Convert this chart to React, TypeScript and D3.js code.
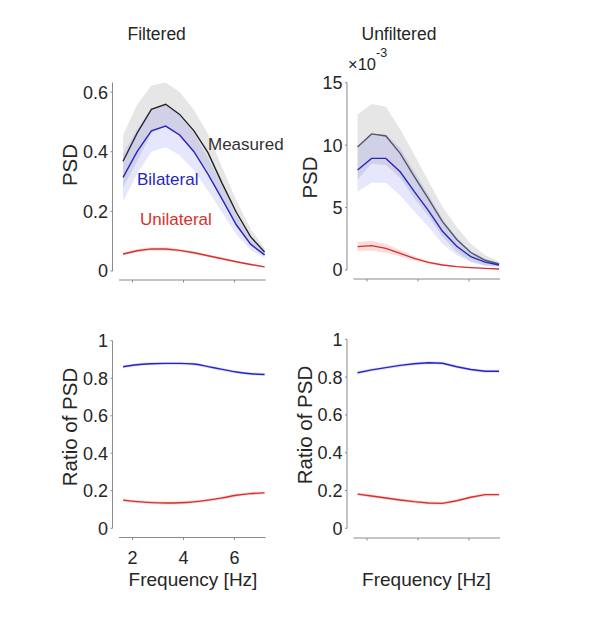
import React from 'react';
import * as d3 from 'd3';

// ---------- data ----------
const freq = [1.63, 2.18, 2.74, 3.3, 3.85, 4.41, 4.96, 5.52, 6.07, 6.63, 7.18];
const xTicks = [2, 4, 6];

const filtMeasured = [0.368, 0.462, 0.542, 0.559, 0.525, 0.47, 0.397, 0.293, 0.197, 0.115, 0.064];
const filtMeasuredErr = [0.088, 0.095, 0.08, 0.073, 0.075, 0.07, 0.063, 0.053, 0.04, 0.027, 0.013];
const filtBilateral = [0.314, 0.4, 0.47, 0.486, 0.456, 0.4, 0.325, 0.24, 0.155, 0.09, 0.054];
const filtBilateralErr = [0.08, 0.075, 0.07, 0.07, 0.068, 0.062, 0.055, 0.045, 0.032, 0.02, 0.01];
const filtUnilateral = [0.057, 0.068, 0.074, 0.074, 0.069, 0.061, 0.051, 0.041, 0.031, 0.022, 0.014];
const filtUnilateralErr = [0.005, 0.006, 0.006, 0.006, 0.005, 0.005, 0.004, 0.004, 0.003, 0.003, 0.002];

const unfMeasured = [9.85, 10.9, 10.73, 9.34, 7.5, 5.7, 3.87, 2.45, 1.4, 0.78, 0.48];
const unfMeasuredErr = [2.6, 2.4, 2.35, 1.95, 1.75, 1.4, 1.2, 1.0, 0.7, 0.42, 0.18];
const unfBilateral = [8.01, 8.94, 8.94, 7.87, 6.3, 4.75, 3.1, 1.9, 1.07, 0.63, 0.4];
const unfBilateralErr = [1.75, 1.95, 1.95, 1.9, 1.6, 1.3, 1.0, 0.7, 0.45, 0.3, 0.15];
const unfUnilateral = [1.87, 1.95, 1.73, 1.33, 0.93, 0.61, 0.4, 0.27, 0.19, 0.13, 0.08];
const unfUnilateralErr = [0.35, 0.4, 0.35, 0.25, 0.18, 0.12, 0.08, 0.05, 0.04, 0.03, 0.02];

const filtRatioBi = [0.861, 0.872, 0.877, 0.879, 0.879, 0.876, 0.862, 0.847, 0.833, 0.824, 0.82];
const filtRatioUni = [0.15, 0.142, 0.137, 0.135, 0.136, 0.141, 0.15, 0.162, 0.176, 0.185, 0.189];
const unfRatioBi = [0.823, 0.838, 0.85, 0.862, 0.871, 0.876, 0.873, 0.855, 0.84, 0.831, 0.831];
const unfRatioUni = [0.181, 0.171, 0.16, 0.15, 0.141, 0.134, 0.132, 0.146, 0.164, 0.178, 0.178];
const ratioErr = [0.008, 0.008, 0.008, 0.008, 0.008, 0.008, 0.008, 0.008, 0.008, 0.008, 0.008];

const psdTicksFilt = [0, 0.2, 0.4, 0.6];
const psdTicksUnf = [0, 5, 10, 15];
const ratioTicks = [0, 0.2, 0.4, 0.6, 0.8, 1];

const titles = ['Filtered', 'Unfiltered'];
const seriesNames = ['Measured', 'Bilateral', 'Unilateral'];

// ---------- styles ----------
const FONT = 'Arial, "Liberation Sans", Helvetica, sans-serif';
const AXIS = '#8a8a8a';
const TXT = '#262626';
const BLACK = '#222222';
const BLUE = '#2626c4';
const RED = '#d8302c';

type Series = { mean: number[]; err: number[]; line: string; band: string; bandOpacity: number };

type PanelCfg = {
  xRange: [number, number];
  yDomain: [number, number];
  yRange: [number, number];
  yAxisX: number;
  xAxisY: number;
  yTicks: number[];
  fmt: (d: number) => string;
  series: Series[];
  showXLabels: boolean;
  curve: d3.CurveFactory;
  yLabel: string;
  yLabelX: number;
  yLabelY: number;
};

function Panel({ cfg }: { cfg: PanelCfg }) {
  const x = d3.scaleLinear().domain([1.47, 7.22]).range(cfg.xRange);
  const y = d3.scaleLinear().domain(cfg.yDomain).range(cfg.yRange);
  const yTopVal = cfg.yDomain[1];
  const area = (s: Series) =>
    d3
      .area<number>()
      .x((_, i) => x(freq[i]))
      .y0((_, i) => y(s.mean[i] - s.err[i]))
      .y1((_, i) => y(s.mean[i] + s.err[i]))
      .curve(cfg.curve)(s.mean) || '';
  const line = (s: Series) =>
    d3
      .line<number>()
      .x((_, i) => x(freq[i]))
      .y((d) => y(d))
      .curve(cfg.curve)(s.mean) || '';
  return (
    <g>
      {cfg.series.map((s, k) => (
        <g key={k}>
          <path d={area(s)} fill={s.band} fillOpacity={s.bandOpacity} stroke="none" />
          <path d={line(s)} fill="none" stroke={s.line} strokeWidth={1.4} />
        </g>
      ))}
      {/* y axis */}
      <line x1={cfg.yAxisX} x2={cfg.yAxisX} y1={y(0)} y2={y(yTopVal)} stroke={AXIS} strokeWidth={1} />
      {cfg.yTicks.map((t) => (
        <g key={t}>
          <line x1={cfg.yAxisX - 2} x2={cfg.yAxisX} y1={y(t)} y2={y(t)} stroke={AXIS} strokeWidth={1} />
          <text x={cfg.yAxisX - 4.5} y={y(t)} dy="0.36em" textAnchor="end" fontSize={18} fill={TXT} fontFamily={FONT}>
            {cfg.fmt(t)}
          </text>
        </g>
      ))}
      {/* x axis */}
      <line x1={cfg.xRange[0]} x2={cfg.xRange[1]} y1={cfg.xAxisY} y2={cfg.xAxisY} stroke={AXIS} strokeWidth={1} />
      {xTicks.map((t) => (
        <g key={t}>
          <line x1={x(t)} x2={x(t)} y1={cfg.xAxisY} y2={cfg.xAxisY + 2.5} stroke={AXIS} strokeWidth={1} />
          {cfg.showXLabels && (
            <text x={x(t)} y={cfg.xAxisY + 26.5} textAnchor="middle" fontSize={18} fill={TXT} fontFamily={FONT}>
              {t}
            </text>
          )}
        </g>
      ))}
      <text
        transform={`translate(${cfg.yLabelX},${cfg.yLabelY}) rotate(-90)`}
        textAnchor="middle"
        fontSize={20.5}
        fill={TXT}
        fontFamily={FONT}
      >
        {cfg.yLabel}
      </text>
    </g>
  );
}

export default function App() {
  const psdSeries = (m: number[], me: number[], b: number[], be: number[], u: number[], ue: number[], mColor: string): Series[] => [
    { mean: m, err: me, line: mColor, band: '#dcdcdc', bandOpacity: 0.7 },
    { mean: b, err: be, line: BLUE, band: '#5a5af0', bandOpacity: 0.15 },
    { mean: u, err: ue, line: RED, band: '#f06060', bandOpacity: 0.22 },
  ];
  const ratioSeries = (bi: number[], un: number[]): Series[] => [
    { mean: bi, err: ratioErr, line: BLUE, band: '#5a5af0', bandOpacity: 0.2 },
    { mean: un, err: ratioErr, line: RED, band: '#f06060', bandOpacity: 0.25 },
  ];
  const fmtDec = (d: number) => (d === 0 ? '0' : d === 1 ? '1' : d.toFixed(1));
  const fmtInt = (d: number) => String(d);

  const panels: PanelCfg[] = [
    {
      xRange: [119, 265.6],
      yDomain: [0, 0.632],
      yRange: [271, 82.5],
      yAxisX: 112.5,
      xAxisY: 280,
      yTicks: psdTicksFilt,
      fmt: fmtDec,
      series: psdSeries(filtMeasured, filtMeasuredErr, filtBilateral, filtBilateralErr, filtUnilateral, filtUnilateralErr, BLACK),
      showXLabels: false,
      curve: d3.curveLinear,
      yLabel: 'PSD',
      yLabelX: 77,
      yLabelY: 165,
    },
    {
      xRange: [353.5, 500.1],
      yDomain: [0, 15],
      yRange: [270, 82.7],
      yAxisX: 347,
      xAxisY: 279,
      yTicks: psdTicksUnf,
      fmt: fmtInt,
      series: psdSeries(unfMeasured, unfMeasuredErr, unfBilateral, unfBilateralErr, unfUnilateral, unfUnilateralErr, '#555555'),
      showXLabels: false,
      curve: d3.curveLinear,
      yLabel: 'PSD',
      yLabelX: 317,
      yLabelY: 177.5,
    },
    {
      xRange: [119, 265.6],
      yDomain: [0, 1],
      yRange: [528.3, 340.7],
      yAxisX: 112.5,
      xAxisY: 537.5,
      yTicks: ratioTicks,
      fmt: fmtDec,
      series: ratioSeries(filtRatioBi, filtRatioUni),
      showXLabels: true,
      curve: d3.curveMonotoneX,
      yLabel: 'Ratio of PSD',
      yLabelX: 77,
      yLabelY: 427,
    },
    {
      xRange: [353.5, 500.1],
      yDomain: [0, 1],
      yRange: [528.3, 339.3],
      yAxisX: 347,
      xAxisY: 538,
      yTicks: ratioTicks,
      fmt: fmtDec,
      series: ratioSeries(unfRatioBi, unfRatioUni),
      showXLabels: false,
      curve: d3.curveLinear,
      yLabel: 'Ratio of PSD',
      yLabelX: 312,
      yLabelY: 425,
    },
  ];

  return (
    <svg
      width={596}
      height={637}
      viewBox="0 0 596 637"
      style={{ position: 'absolute', left: 0, top: 0, background: '#ffffff' }}
    >
      <rect x={0} y={0} width={596} height={637} fill="#ffffff" />
      {panels.map((p, i) => (
        <Panel key={i} cfg={p} />
      ))}
      <text x={127.5} y={40} fontSize={17.5} fill={TXT} fontFamily={FONT}>
        {titles[0]}
      </text>
      <text x={361.5} y={40} fontSize={17.5} fill={TXT} fontFamily={FONT}>
        {titles[1]}
      </text>
      <text x={348} y={70} fontSize={16.5} fill={TXT} fontFamily={FONT}>
        ×10
        <tspan fontSize={12.5} dy={-13}>
          -3
        </tspan>
      </text>
      <text x={208} y={150} fontSize={17} fill="#333333" fontFamily={FONT}>
        {seriesNames[0]}
      </text>
      <text x={137} y={185} fontSize={17} fill={BLUE} fontFamily={FONT}>
        {seriesNames[1]}
      </text>
      <text x={140} y={225} fontSize={17} fill={RED} fontFamily={FONT}>
        {seriesNames[2]}
      </text>
      <text x={193} y={586} textAnchor="middle" fontSize={19} fill={TXT} fontFamily={FONT}>
        Frequency [Hz]
      </text>
      <text x={426.5} y={586} textAnchor="middle" fontSize={19} fill={TXT} fontFamily={FONT}>
        Frequency [Hz]
      </text>
    </svg>
  );
}
